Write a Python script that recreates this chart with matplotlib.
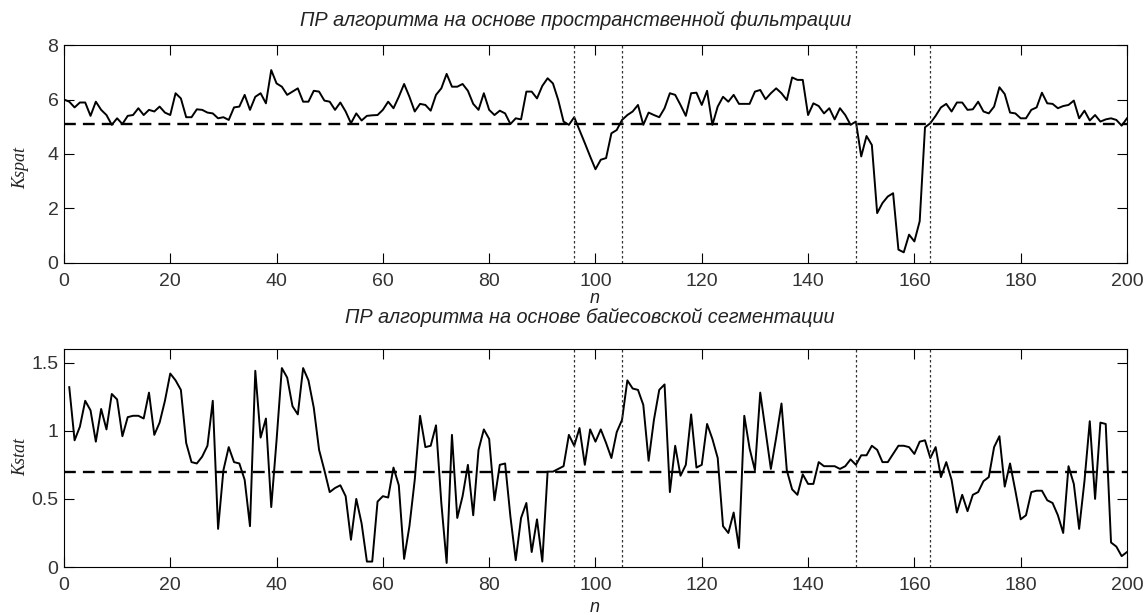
import numpy as np
import matplotlib
matplotlib.use("Agg")
import matplotlib.pyplot as plt

# Kspat values, n = 0..200
kspat = [6.00, 5.92, 5.71, 5.89, 5.89, 5.40, 5.92, 5.62, 5.43, 5.07,
         5.31, 5.10, 5.40, 5.43, 5.68, 5.43, 5.62, 5.56, 5.74, 5.52,
         5.43, 6.23, 6.04, 5.35, 5.35, 5.64, 5.62, 5.52, 5.49, 5.31,
         5.35, 5.25, 5.71, 5.74, 6.17, 5.62, 6.10, 6.23, 5.86, 7.08,
         6.59, 6.47, 6.17, 6.29, 6.41, 5.92, 5.92, 6.32, 6.29, 5.96,
         5.92, 5.62, 5.89, 5.56, 5.13, 5.49, 5.23, 5.40, 5.42, 5.43,
         5.62, 5.92, 5.68, 6.10, 6.57, 6.10, 5.56, 5.84, 5.80, 5.59,
         6.17, 6.41, 6.94, 6.47, 6.47, 6.57, 6.32, 5.84, 5.62, 6.23,
         5.62, 5.43, 5.59, 5.49, 5.10, 5.31, 5.27, 6.29, 6.29, 6.04,
         6.50, 6.78, 6.59, 5.98, 5.19, 5.07, 5.35, 4.88, 4.40, 3.91,
         3.44, 3.79, 3.85, 4.76, 4.88, 5.25, 5.43, 5.56, 5.80, 5.07,
         5.52, 5.43, 5.35, 5.68, 6.23, 6.17, 5.80, 5.40, 6.23, 6.25,
         5.80, 6.32, 5.07, 5.74, 6.10, 5.92, 6.17, 5.84, 5.84, 5.84,
         6.29, 6.35, 6.01, 6.23, 6.41, 6.23, 5.98, 6.81, 6.72, 6.72,
         5.43, 5.86, 5.76, 5.49, 5.68, 5.27, 5.68, 5.43, 5.07, 5.19,
         3.91, 4.66, 4.33, 1.83, 2.20, 2.44, 2.56, 0.49, 0.39, 1.04,
         0.79, 1.53, 4.98, 5.13, 5.40, 5.71, 5.84, 5.56, 5.89, 5.89,
         5.62, 5.64, 5.92, 5.56, 5.49, 5.74, 6.45, 6.20, 5.52, 5.49,
         5.31, 5.31, 5.62, 5.71, 6.25, 5.86, 5.84, 5.68, 5.76, 5.80,
         5.96, 5.31, 5.59, 5.23, 5.43, 5.19, 5.27, 5.31, 5.25, 5.04,
         5.31]

# Kstat values, n = 1..200
kstat = [1.32, 0.93, 1.03, 1.22, 1.15, 0.92, 1.16, 1.01, 1.27, 1.23,
         0.96, 1.10, 1.11, 1.11, 1.09, 1.28, 0.97, 1.06, 1.22, 1.42,
         1.37, 1.30, 0.91, 0.77, 0.76, 0.81, 0.89, 1.22, 0.28, 0.71,
         0.88, 0.77, 0.76, 0.64, 0.30, 1.44, 0.95, 1.09, 0.44, 0.93,
         1.46, 1.39, 1.18, 1.12, 1.46, 1.37, 1.17, 0.86, 0.71, 0.55,
         0.58, 0.60, 0.52, 0.20, 0.50, 0.32, 0.04, 0.04, 0.48, 0.52,
         0.51, 0.73, 0.60, 0.06, 0.30, 0.64, 1.11, 0.88, 0.89, 1.04,
         0.47, 0.03, 0.97, 0.36, 0.52, 0.75, 0.38, 0.86, 1.01, 0.94,
         0.49, 0.75, 0.76, 0.37, 0.05, 0.36, 0.47, 0.11, 0.35, 0.04,
         0.70, 0.70, 0.72, 0.74, 0.97, 0.89, 1.02, 0.75, 1.01, 0.92,
         1.01, 0.91, 0.80, 0.99, 1.08, 1.37, 1.31, 1.30, 1.19, 0.78,
         1.08, 1.30, 1.34, 0.55, 0.89, 0.67, 0.75, 1.12, 0.73, 0.75,
         1.05, 0.94, 0.80, 0.30, 0.25, 0.40, 0.14, 1.11, 0.87, 0.71,
         1.28, 1.00, 0.72, 0.95, 1.20, 0.71, 0.57, 0.53, 0.68, 0.61,
         0.61, 0.77, 0.74, 0.74, 0.74, 0.72, 0.74, 0.79, 0.75, 0.82,
         0.82, 0.89, 0.86, 0.77, 0.77, 0.83, 0.89, 0.89, 0.88, 0.83,
         0.92, 0.93, 0.80, 0.88, 0.66, 0.77, 0.64, 0.40, 0.53, 0.41,
         0.53, 0.55, 0.63, 0.66, 0.88, 0.96, 0.59, 0.76, 0.56, 0.35,
         0.38, 0.55, 0.56, 0.56, 0.49, 0.47, 0.38, 0.25, 0.74, 0.61,
         0.28, 0.63, 1.07, 0.50, 1.06, 1.05, 0.18, 0.15, 0.08, 0.11]

n_spat = np.arange(0, 201)
n_stat = np.arange(1, 201)

thr_spat = 5.1
thr_stat = 0.7
borders = [96, 105, 149, 163]

title_spat = "ПР алгоритма на основе пространственной фильтрации"
title_stat = "ПР алгоритма на основе байесовской сегментации"

sans = "Liberation Sans"

fig = plt.figure(figsize=(11.46, 6.15), dpi=100)
ax1 = fig.add_axes([0.0558, 0.5724, 0.9276, 0.3544])
ax2 = fig.add_axes([0.0558, 0.078, 0.9276, 0.3545])

panels = [
    (ax1, n_spat, kspat, thr_spat, (0, 8), [0, 2, 4, 6, 8], ["0", "2", "4", "6", "8"]),
    (ax2, n_stat, kstat, thr_stat, (0, 1.6), [0, 0.5, 1, 1.5], ["0", "0.5", "1", "1.5"]),
]

for ax, x, y, thr, ylim, yt, ytl in panels:
    ax.plot(x, y, color="black", lw=1.4)
    ax.axhline(thr, color="black", lw=1.7, ls=(0, (5, 3)))
    for b in borders:
        ax.axvline(b, color="#333333", lw=0.9, ls=(0, (2, 2)))
    ax.set_xlim(0, 200)
    ax.set_ylim(*ylim)
    ax.set_xticks(np.arange(0, 201, 20))
    ax.set_yticks(yt)
    ax.set_yticklabels(ytl)
    ax.tick_params(direction="in", top=True, right=True, length=7, width=0.8,
                   labelsize=14, colors="black")
    ax.tick_params(axis="x", pad=7)
    ax.tick_params(axis="y", pad=4)
    for lab in ax.get_xticklabels() + ax.get_yticklabels():
        lab.set_family(sans)
        lab.set_color("#333333")
    for s in ax.spines.values():
        s.set_linewidth(0.8)

# titles, axis labels placed in figure pixels
W, H = 1146, 615
fig.text(576 / W, 1 - 20 / H, title_spat, family=sans, style="italic",
         fontsize=14.3, ha="center", va="center", color="#222222")
fig.text(590 / W, 1 - 317 / H, title_stat, family=sans, style="italic",
         fontsize=14.3, ha="center", va="center", color="#222222")
fig.text(595 / W, 1 - 298 / H, "n", family=sans, style="italic",
         fontsize=13, ha="center", va="center", color="#222222")
fig.text(595 / W, 1 - 607 / H, "n", family=sans, style="italic",
         fontsize=13, ha="center", va="center", color="#222222")
fig.text(21 / W, 1 - 168 / H, "Kspat", family="Liberation Serif", style="italic",
         fontsize=13, rotation=90, ha="center", va="center", color="#222222")
fig.text(21 / W, 1 - 457 / H, "Kstat", family="Liberation Serif", style="italic",
         fontsize=13, rotation=90, ha="center", va="center", color="#222222")

fig.savefig("out.png", dpi=100, facecolor="white")
